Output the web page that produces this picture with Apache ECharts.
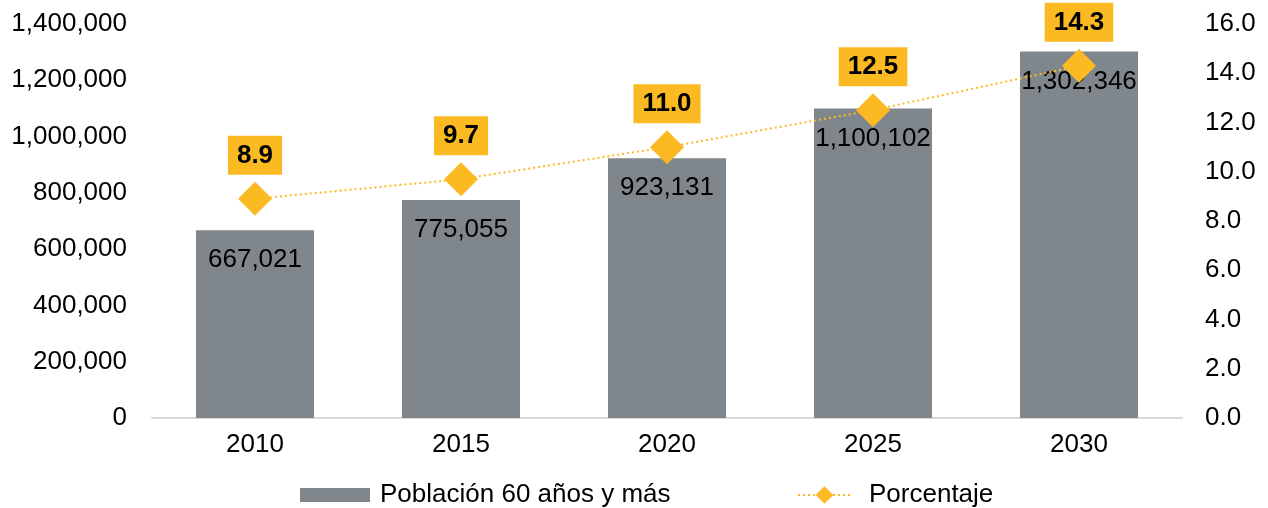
<!DOCTYPE html>
<html><head><meta charset="utf-8">
<script src="https://cdn.jsdelivr.net/npm/echarts@6/dist/echarts.min.js"></script>
<style>html,body{margin:0;padding:0;background:#fff}#c{width:1268px;height:508px}</style>
</head><body><div id="c"></div>
<script>
const categories = ['2010','2015','2020','2025','2030'];
const poblacion = [667021, 775055, 923131, 1100102, 1302346];
const porcentaje = [8.9, 9.7, 11.0, 12.5, 14.3];
const leftTicks = {min:0, max:1400000, interval:200000};
const rightTicks = {min:0, max:16, interval:2};

const FONT = 'Arial, "Liberation Sans", sans-serif';
const FS = 26;
const chart = echarts.init(document.getElementById('c'), null, {renderer:'canvas'});
chart.setOption({
  animation:false,
  textStyle:{fontFamily:FONT},
  grid:{left:152, right:86, top:24, bottom:90},
  legend:[{
    left:300, top:482, padding:0, itemWidth:70, itemHeight:14, itemGap:8,
    textStyle:{fontFamily:FONT, fontSize:FS, color:'#000', padding:[0,0,0,5]},
    data:[{name:'Población 60 años y más', icon:'rect'}]
  },{
    left:797, top:482, padding:0, itemWidth:53, itemHeight:22, itemGap:8,
    textStyle:{fontFamily:FONT, fontSize:FS, color:'#000', padding:[0,0,0,13]},
    data:[{name:'Porcentaje'}]
  }],
  xAxis:{
    type:'category', data:categories,
    axisLine:{lineStyle:{color:'#D9D9D9', width:2}},
    axisTick:{show:false},
    axisLabel:{color:'#000', fontSize:FS, fontFamily:FONT, margin:14}
  },
  yAxis:[{
    type:'value', min:leftTicks.min, max:leftTicks.max, interval:leftTicks.interval,
    splitLine:{show:false}, axisLine:{show:false}, axisTick:{show:false},
    axisLabel:{color:'#000', fontSize:FS, fontFamily:FONT, margin:25,
      formatter:v=>v.toLocaleString('en-US')}
  },{
    type:'value', min:rightTicks.min, max:rightTicks.max, interval:rightTicks.interval,
    splitLine:{show:false}, axisLine:{show:false}, axisTick:{show:false},
    axisLabel:{color:'#000', fontSize:FS, fontFamily:FONT, margin:23,
      formatter:v=>v.toFixed(1)}
  }],
  series:[{
    name:'Población 60 años y más', type:'bar', data:poblacion,
    barWidth:118,
    itemStyle:{color:'#7F878C'},
    label:{show:true, position:'insideTop', distance:17, color:'#000', fontSize:FS, fontFamily:FONT,
      formatter:p=>p.value.toLocaleString('en-US')}
  },{
    name:'Porcentaje', type:'line', yAxisIndex:1, data:porcentaje,
    symbol:'diamond', symbolSize:34,
    lineStyle:{color:'#FBBA22', width:2, type:[2,3]},
    itemStyle:{color:'#FBBA22'},
    label:{show:true, position:'top', distance:7, color:'#000', fontSize:FS, fontWeight:'bold',
      fontFamily:FONT, backgroundColor:'#FBBA22', padding:[7,9,6,9],
      formatter:p=>p.value.toFixed(1)}
  }]
});
</script></body></html>
